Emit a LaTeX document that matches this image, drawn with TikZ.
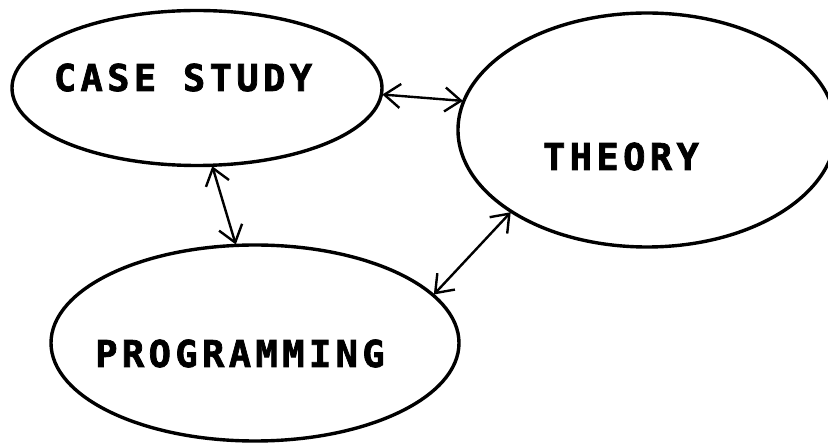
\documentclass[tikz,border=0pt]{standalone}
\usepackage{fontspec}
\newfontfamily\pixfont[LetterSpace=12.0,FakeBold=2]{DejaVu Sans Mono Bold}
\usetikzlibrary{shapes.geometric,arrows.meta}
\begin{document}
\begin{tikzpicture}[x=1pt,y=-1pt,
  bubble/.style={draw=black,line width=3.4pt,ellipse,inner sep=0pt,outer sep=0pt},
  caption/.style={anchor=base,inner sep=0pt,font=\pixfont\fontsize{37}{37}\selectfont},
  link/.style={line width=2.4pt,{Straight Barb[length=16pt,width=24pt]}-{Straight Barb[length=16pt,width=24pt]},shorten <=1pt,shorten >=1pt}]
  \useasboundingbox[fill=white] (0,0) rectangle (828,443);
  % the three topic ellipses
  \node[bubble,minimum width=370pt,minimum height=155pt] (cs) at (197,88) {};
  \node[bubble,minimum width=378pt,minimum height=234pt] (th) at (647,130) {};
  \node[bubble,minimum width=408pt,minimum height=196pt] (pr) at (255,343) {};
  % their labels
  \node[caption] (cstext) at (183,91) {CASE STUDY};
  \node[caption] (thtext) at (621,170) {THEORY};
  \node[caption] (prtext) at (240,367) {PROGRAMMING};
  % two-way links between the topics
  \draw[link] (cs.-2) -- (th.171);
  \draw[link] (cs.-79) -- (pr.101);
  \draw[link] (th.211) -- (pr.15);
\end{tikzpicture}
\end{document}
